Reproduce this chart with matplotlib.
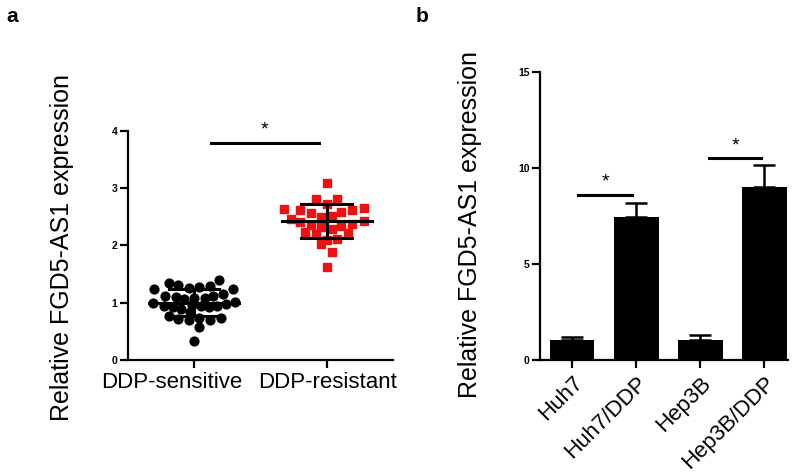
import numpy as np
import matplotlib
matplotlib.use("Agg")
import matplotlib.pyplot as plt

plt.rcParams['font.family'] = ['Liberation Sans', 'DejaVu Sans']

# panel a: dot plot
groups = ["DDP-sensitive", "DDP-resistant"]
sens_vals = [1.35, 1.24, 1.30, 1.26, 1.28, 1.29, 1.40, 1.24, 1.12, 1.10, 1.06, 1.09,
             1.08, 1.12, 1.15, 0.99, 0.95, 0.93, 0.89, 0.96, 0.95, 0.93, 0.95, 0.97,
             1.01, 0.76, 0.71, 0.70, 0.83, 0.73, 0.70, 0.74, 0.58, 0.34]
sens_off = [-0.19, -0.30, -0.12, -0.04, 0.04, 0.12, 0.19, 0.29, -0.22, -0.14, -0.08, 0.0,
            0.08, 0.14, 0.22, -0.31, -0.23, -0.16, -0.10, -0.02, 0.05, 0.11, 0.17, 0.24,
            0.31, -0.19, -0.12, -0.04, -0.03, 0.04, 0.12, 0.20, 0.04, 0.0]
res_vals = [3.09, 2.81, 2.81, 2.63, 2.61, 2.57, 2.73, 2.59, 2.61, 2.65, 2.46, 2.40,
            2.50, 2.51, 2.38, 2.43, 2.24, 2.36, 2.19, 2.32, 2.28, 2.33, 2.22, 2.02,
            2.10, 2.11, 1.88, 1.62]
res_off = [0.0, -0.08, 0.08, -0.32, -0.20, -0.12, 0.0, 0.11, 0.19, 0.28, -0.27, -0.20,
           -0.04, 0.04, 0.19, 0.28, -0.16, -0.12, -0.08, -0.04, 0.04, 0.11, 0.16, -0.04,
           0.0, 0.08, 0.04, 0.0]
dot_mean = [1.00, 2.42]
dot_sd = [0.24, 0.30]

# panel b: bar chart
cells = ["Huh7", "Huh7/DDP", "Hep3B", "Hep3B/DDP"]
bar_mean = [1.05, 7.42, 1.02, 9.0]
bar_err = [0.17, 0.75, 0.30, 1.15]

fig = plt.figure(figsize=(8, 4.76), dpi=100)
axa = fig.add_axes([0.16, 0.2437, 0.331, 0.4817])
axb = fig.add_axes([0.675, 0.2437, 0.31, 0.6057])

def style(ax):
    for s in ["top", "right"]:
        ax.spines[s].set_visible(False)
    for s in ["left", "bottom"]:
        ax.spines[s].set_linewidth(1.6)
    ax.tick_params(axis="both", which="major", width=1.6, length=5.5, direction="out")
    ax.tick_params(axis="y", labelsize=7.5, pad=2)
    for t in ax.get_yticklabels():
        t.set_fontweight("bold")

# --- a ---
axa.scatter(np.array(sens_off), sens_vals, s=40, c="black", marker="o", zorder=2)
axa.scatter(1 + np.array(res_off), res_vals, s=34, c="#ee1111", marker="s", zorder=2)
for i in range(2):
    m, sd = dot_mean[i], dot_sd[i]
    axa.plot([i - 0.34, i + 0.34], [m, m], color="black", lw=2.2, zorder=3)
    axa.plot([i, i], [m - sd, m + sd], color="black", lw=2.2, zorder=3)
    for y in (m - sd, m + sd):
        axa.plot([i - 0.19, i + 0.19], [y, y], color="black", lw=2.2, zorder=3)
axa.plot([0.13, 0.94], [3.79, 3.79], color="black", lw=2.2)
axa.text(0.53, 3.86, "*", ha="center", va="bottom", fontsize=14)
axa.set_xlim(-0.5, 1.5)
axa.set_ylim(0, 4)
axa.set_yticks([0, 1, 2, 3, 4])
axa.set_xticks([0, 1])
axa.set_xticklabels([])
# group names sit on unmarked minor ticks; the first one is nudged left as in the original
axa.set_xticks([-0.17, 1.005], minor=True)
axa.set_xticklabels(groups, minor=True, fontsize=16)
axa.tick_params(axis="x", which="minor", length=0, pad=9)
axa.set_ylabel("Relative FGD5-AS1 expression", fontsize=18)
axa.yaxis.set_label_coords(-0.205, 0.49)
style(axa)

# --- b ---
x = np.arange(len(cells))
axb.bar(x, bar_mean, width=0.7, color="black", zorder=2)
axb.errorbar(x, bar_mean, yerr=[np.zeros(4), bar_err], fmt="none", ecolor="black",
             elinewidth=1.8, capsize=8, capthick=1.8, zorder=1)
axb.plot([0.1, 0.93], [8.6, 8.6], color="black", lw=2.2)
axb.text(0.52, 8.8, "*", ha="center", va="bottom", fontsize=14)
axb.plot([2.14, 2.95], [10.5, 10.5], color="black", lw=2.2)
axb.text(2.55, 10.7, "*", ha="center", va="bottom", fontsize=14)
axb.set_xlim(-0.5, 3.37)
axb.set_ylim(0, 15)
axb.set_yticks([0, 5, 10, 15])
axb.set_xticks(x)
axb.set_xticklabels(cells, fontsize=16, rotation=45, ha="right", rotation_mode="anchor")
axb.set_ylabel("Relative FGD5-AS1 expression", fontsize=18)
axb.yaxis.set_label_coords(-0.234, 0.47)
style(axb)

fig.text(0.008, 0.985, "a", fontsize=15, fontweight="bold", va="top")
fig.text(0.52, 0.985, "b", fontsize=15, fontweight="bold", va="top")

fig.savefig("out.png", dpi=100)
